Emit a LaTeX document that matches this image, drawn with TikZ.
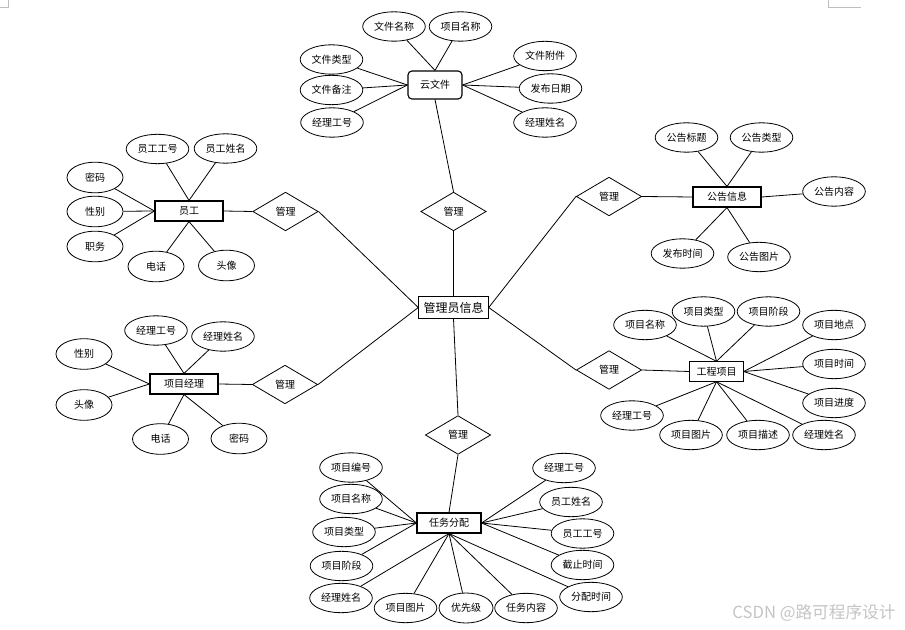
\documentclass[tikz,border=0pt]{standalone}
\usepackage{fontspec}
\setmainfont{Noto Sans CJK SC}
\usepackage{xcolor}
\definecolor{markGray}{HTML}{BEBEBE}
\definecolor{wmGray}{HTML}{C4C4C4}
\usetikzlibrary{shapes.geometric}
\tikzset{
    attr/.style={ellipse, draw, line width=0.6pt, minimum width=47pt,
                 minimum height=22pt, inner sep=0pt,
                 font=\fontsize{7.5}{9}\selectfont},
    attrs/.style={attr, minimum width=42pt, minimum height=23pt},
    entity/.style={rectangle, draw, line width=0.85pt, minimum width=51pt,
                   minimum height=15pt, inner sep=0pt,
                   font=\fontsize{7.5}{9}\selectfont},
    rel/.style={diamond, draw, line width=0.6pt, minimum width=49pt,
                minimum height=29pt, inner sep=0pt,
                font=\fontsize{7.5}{9}\selectfont},
    link/.style={-, line width=0.6pt},
}

\begin{document}
\begin{tikzpicture}[x=0.75pt, y=-0.75pt]
    \useasboundingbox (0,0) rectangle (905,630);
    % page corner marks
    \draw[markGray, line width=0.6pt] (8,0) -- (8,7) -- (0,7);
    \draw[markGray, line width=0.6pt] (828,0) -- (828,7) -- (861,7);

    % centre
    \node[entity, minimum width=52pt, minimum height=16pt,
          font=\fontsize{9}{11}\selectfont] (admin) at (453.5,307.5) {管理员信息};

    % cloud file
    \node[entity, rounded corners=3pt, minimum width=40.5pt,
          minimum height=21pt] (cloud) at (435,85) {云文件};
    \node[rel] (rcloud) at (453.5,211.5) {管理};
    \node[attr] (c1) at (394,26.5)   {文件名称};
    \node[attr] (c2) at (460.5,26.5) {项目名称};
    \node[attr] (c3) at (331.5,59.5) {文件类型};
    \node[attr] (c4) at (331.5,90)   {文件备注};
    \node[attr] (c5) at (332,122.5)  {经理工号};
    \node[attr] (c6) at (545,56)     {文件附件};
    \node[attr] (c7) at (550.5,88.5) {发布日期};
    \node[attr] (c8) at (545,122.5)  {经理姓名};
    \draw[link] (c1) -- (cloud.north);
    \draw[link] (c2) -- (cloud.north);
    \draw[link] (c3) -- (cloud.west);
    \draw[link] (c4) -- (cloud.west);
    \draw[link] (c5) -- (cloud.west);
    \draw[link] (c6) -- (cloud.east);
    \draw[link] (c7) -- (cloud.east);
    \draw[link] (c8) -- (cloud.east);
    \draw[link] (cloud.south) -- (rcloud.north);
    \draw[link] (rcloud.south) -- (admin.north);

    % staff
    \node[entity] (staff) at (189,211) {员工};
    \node[rel] (rstaff) at (285.5,211.5) {管理};
    \node[attr]  (s1) at (157.5,149)   {员工工号};
    \node[attr]  (s2) at (225.5,148.5) {员工姓名};
    \node[attrs] (s3) at (95,177.5)    {密码};
    \node[attrs] (s4) at (95,211.5)    {性别};
    \node[attrs] (s5) at (95,246.5)    {职务};
    \node[attrs] (s6) at (156,266.5)   {电话};
    \node[attrs] (s7) at (226.5,265.5) {头像};
    \draw[link] (s1) -- (staff.north);
    \draw[link] (s2) -- (staff.north);
    \draw[link] (s3) -- (staff.west);
    \draw[link] (s4) -- (staff.west);
    \draw[link] (s5) -- (staff.west);
    \draw[link] (s6) -- (staff.south);
    \draw[link] (s7) -- (staff.south);
    \draw[link] (staff.east) -- (rstaff.west);
    \draw[link] (rstaff.east) -- (admin.west);

    % project manager
    \node[entity] (mgr) at (184,384) {项目经理};
    \node[rel] (rmgr) at (285,384.5) {管理};
    \node[attr]  (m1) at (156,330.5)   {经理工号};
    \node[attr]  (m2) at (223,336.5)   {经理姓名};
    \node[attrs] (m3) at (84,354)      {性别};
    \node[attrs] (m4) at (84,405)      {头像};
    \node[attrs] (m5) at (160.5,439)   {电话};
    \node[attrs] (m6) at (239,438.5)   {密码};
    \draw[link] (m1) -- (mgr.north);
    \draw[link] (m2) -- (mgr.north);
    \draw[link] (m3) -- (mgr.west);
    \draw[link] (m4) -- (mgr.west);
    \draw[link] (m5) -- (mgr.south);
    \draw[link] (m6) -- (mgr.south);
    \draw[link] (mgr.east) -- (rmgr.west);
    \draw[link] (rmgr.east) -- (admin.west);

    % notice
    \node[entity] (notice) at (727,197) {公告信息};
    \node[rel] (rnotice) at (609,196.5) {管理};
    \node[attr] (n1) at (686.5,137.5) {公告标题};
    \node[attr] (n2) at (761.5,137.5) {公告类型};
    \node[attr] (n3) at (834,191.5)   {公告内容};
    \node[attr] (n4) at (682.5,253.5) {发布时间};
    \node[attr] (n5) at (759,257)     {公告图片};
    \draw[link] (n1) -- (notice.north);
    \draw[link] (n2) -- (notice.north);
    \draw[link] (n3) -- (notice.east);
    \draw[link] (n4) -- (notice.south);
    \draw[link] (n5) -- (notice.south);
    \draw[link] (notice.west) -- (rnotice.east);
    \draw[link] (rnotice.west) -- (admin.east);

    % engineering project
    \node[entity, minimum width=40pt, minimum height=14.5pt] (proj) at (716.5,371.5) {工程项目};
    \node[rel] (rproj) at (609,370) {管理};
    \node[attr] (p1)  at (645,325)   {项目名称};
    \node[attr] (p2)  at (703.5,311.5) {项目类型};
    \node[attr] (p3)  at (768.5,311.5) {项目阶段};
    \node[attr] (p4)  at (834,325)   {项目地点};
    \node[attr] (p5)  at (834,364)   {项目时间};
    \node[attr] (p6)  at (834,403)   {项目进度};
    \node[attr] (p7)  at (632,415.5) {经理工号};
    \node[attr] (p8)  at (691,435)   {项目图片};
    \node[attr] (p9)  at (758,435)   {项目描述};
    \node[attr] (p10) at (824,435)   {经理姓名};
    \draw[link] (p1) -- (proj.north);
    \draw[link] (p2) -- (proj.north);
    \draw[link] (p3) -- (proj.north);
    \draw[link] (p4) -- (proj.east);
    \draw[link] (p5) -- (proj.east);
    \draw[link] (p6) -- (proj.east);
    \draw[link] (p7) -- (proj.south);
    \draw[link] (p8) -- (proj.south);
    \draw[link] (p9) -- (proj.south);
    \draw[link] (p10) -- (proj.south);
    \draw[link] (proj.west) -- (rproj.east);
    \draw[link] (rproj.west) -- (admin.east);

    % task assignment
    \node[entity, minimum width=48pt] (task) at (449,523) {任务分配};
    \node[rel] (rtask) at (458,435) {管理};
    \node[attr]  (t1)  at (351,467.5) {项目编号};
    \node[attr]  (t2)  at (351,499)   {项目名称};
    \node[attr]  (t3)  at (344,532)   {项目类型};
    \node[attr]  (t4)  at (341.5,566) {项目阶段};
    \node[attr]  (t5)  at (341,598)   {经理姓名};
    \node[attr]  (t6)  at (405.5,608) {项目图片};
    \node[attrs, minimum width=40.5pt, minimum height=22.5pt] (t7) at (466,608) {优先级};
    \node[attr]  (t8)  at (526,608)   {任务内容};
    \node[attr]  (t9)  at (564,468)   {经理工号};
    \node[attr]  (t10) at (571,502)   {员工姓名};
    \node[attr]  (t11) at (582.5,533.5) {员工工号};
    \node[attr]  (t12) at (582.5,565) {截止时间};
    \node[attr]  (t13) at (591,597)   {分配时间};
    \draw[link] (t1) -- (task.west);
    \draw[link] (t2) -- (task.west);
    \draw[link] (t3) -- (task.west);
    \draw[link] (t4) -- (task.west);
    \draw[link] (t5) -- (task.south);
    \draw[link] (t6) -- (task.south);
    \draw[link] (t7) -- (task.south);
    \draw[link] (t8) -- (task.south);
    \draw[link] (t9) -- (task.east);
    \draw[link] (t10) -- (task.east);
    \draw[link] (t11) -- (task.east);
    \draw[link] (t12) -- (task.east);
    \draw[link] (t13) -- (task.south);
    \draw[link] (task.north) -- (rtask.south);
    \draw[link] (rtask.north) -- (admin.south);

    % watermark
    \node[wmGray, font=\fontsize{12.5}{15}\selectfont] (wm) at (814,613) {CSDN @路可程序设计};
\end{tikzpicture}
\end{document}
